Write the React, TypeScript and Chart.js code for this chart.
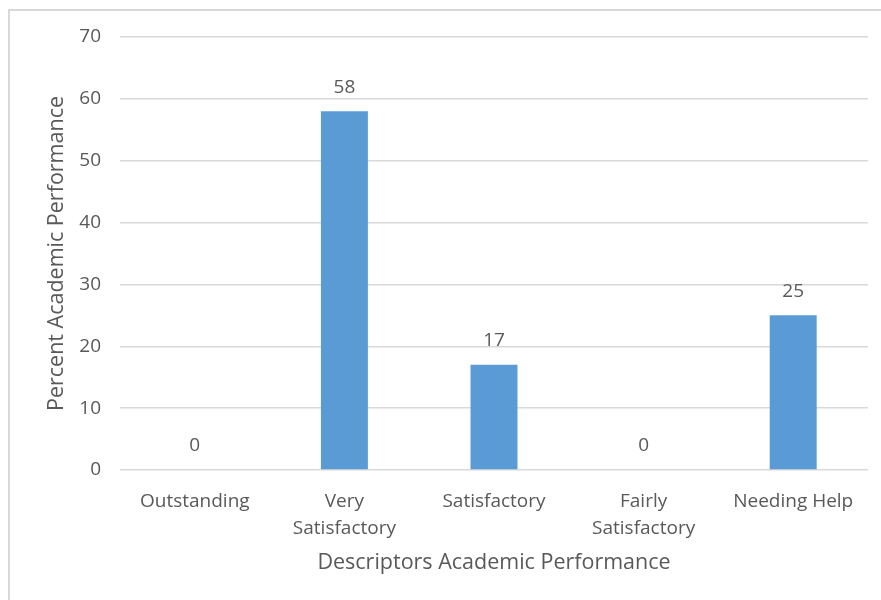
import React, { useEffect, useRef } from "react";
import { Chart, registerables } from "chart.js";

Chart.register(...registerables);

const categories: (string | string[])[] = [
  "Outstanding",
  ["Very", "Satisfactory"],
  "Satisfactory",
  ["Fairly", "Satisfactory"],
  "Needing Help",
];
const percentValues: number[] = [0, 58, 17, 0, 25];
const yTicks: number[] = [0, 10, 20, 30, 40, 50, 60, 70];

const xAxisTitle = "Descriptors Academic Performance";
const yAxisTitle = "Percent Academic Performance";

const TEXT = "#595959";
const BAR = "#5B9BD5";
const GRID = "#D9D9D9";
const FONT = "'Open Sans', sans-serif";

const valueLabels = {
  id: "valueLabels",
  afterDatasetsDraw(chart: any) {
    const ctx = chart.ctx;
    const meta = chart.getDatasetMeta(0);
    const data = chart.data.datasets[0].data as number[];
    ctx.save();
    ctx.fillStyle = TEXT;
    ctx.font = `19px ${FONT}`;
    ctx.textAlign = "center";
    ctx.textBaseline = "middle";
    meta.data.forEach((bar: any, i: number) => {
      ctx.fillText(String(data[i]), bar.x, bar.y - 24);
    });
    ctx.restore();
  },
};

export default function App() {
  const canvasRef = useRef<HTMLCanvasElement | null>(null);

  useEffect(() => {
    if (!canvasRef.current) return;
    const chart = new Chart(canvasRef.current, {
      type: "bar",
      data: {
        labels: categories,
        datasets: [
          {
            data: percentValues,
            backgroundColor: BAR,
            borderWidth: 0,
            categoryPercentage: 1,
            barPercentage: 0.314,
          },
        ],
      },
      options: {
        animation: false,
        responsive: false,
        maintainAspectRatio: false,
        layout: { padding: { left: 0, right: 13, top: 37, bottom: 0 } },
        plugins: {
          legend: { display: false },
          tooltip: { enabled: false },
        },
        scales: {
          x: {
            grid: { display: false, drawTicks: false },
            border: { display: false },
            ticks: {
              color: TEXT,
              font: { family: FONT, size: 19, lineHeight: 1.42 },
              padding: 18,
              maxRotation: 0,
              autoSkip: false,
            },
            title: {
              display: true,
              text: xAxisTitle,
              color: TEXT,
              font: { family: FONT, size: 21.5, lineHeight: 1.2 },
              padding: { top: 0, bottom: 24 },
            },
            afterFit(scale: any) {
              scale.height = 130;
            },
          },
          y: {
            min: 0,
            max: 70,
            afterBuildTicks(scale: any) {
              scale.ticks = yTicks.map((v) => ({ value: v }));
            },
            grid: { color: GRID, lineWidth: 1.5, drawTicks: false },
            border: { display: false },
            ticks: {
              color: TEXT,
              font: { family: FONT, size: 19 },
              padding: 19,
            },
            title: {
              display: true,
              text: yAxisTitle,
              color: TEXT,
              font: { family: FONT, size: 21.5, lineHeight: 1.2 },
              padding: { top: 44, bottom: 0 },
            },
            afterFit(scale: any) {
              scale.width = 120;
            },
          },
        },
      },
      plugins: [valueLabels],
    });
    return () => chart.destroy();
  }, []);

  return (
    <div
      style={{
        position: "fixed",
        left: 0,
        top: 0,
        width: 881,
        height: 600,
        background: "#ffffff",
        overflow: "hidden",
      }}
    >
      <div
        style={{
          position: "absolute",
          left: 8,
          top: 9,
          width: 900,
          height: 620,
          borderLeft: `2px solid ${GRID}`,
          borderTop: `2px solid ${GRID}`,
          boxSizing: "border-box",
        }}
      />
      <canvas
        ref={canvasRef}
        width={881}
        height={600}
        style={{ position: "absolute", left: 0, top: 0 }}
      />
    </div>
  );
}
